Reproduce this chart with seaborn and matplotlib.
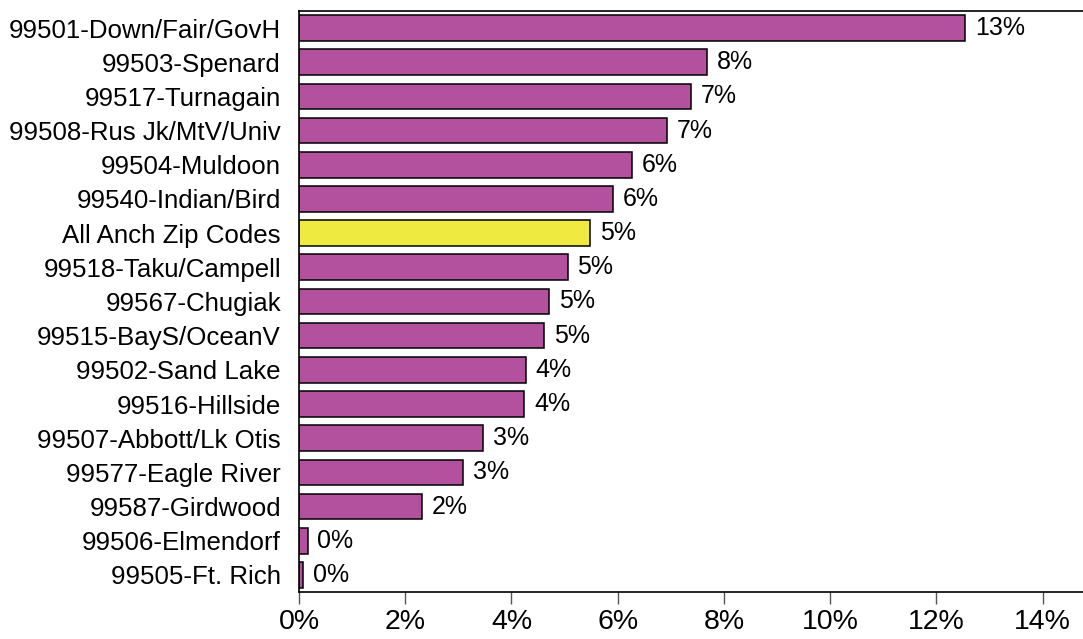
import pandas as pd
import matplotlib.pyplot as plt
import seaborn as sns
from matplotlib.ticker import FuncFormatter

# Data
zip_areas = [
    "99501-Down/Fair/GovH", "99503-Spenard", "99517-Turnagain", "99508-Rus Jk/MtV/Univ",
    "99504-Muldoon", "99540-Indian/Bird", "All Anch Zip Codes", "99518-Taku/Campell",
    "99567-Chugiak", "99515-BayS/OceanV", "99502-Sand Lake", "99516-Hillside",
    "99507-Abbott/Lk Otis", "99577-Eagle River", "99587-Girdwood", "99506-Elmendorf",
    "99505-Ft. Rich",
]
pct = [12.54, 7.68, 7.38, 6.92, 6.27, 5.91, 5.48, 5.06, 4.71, 4.62, 4.27, 4.24,
       3.47, 3.09, 2.32, 0.16, 0.08]
x_ticks = [0, 2, 4, 6, 8, 10, 12, 14]

purple = "#B4519E"
yellow = "#EEEA40"
colors = [yellow if a.startswith("All") else purple for a in zip_areas]

df = pd.DataFrame({"area": zip_areas, "pct": pct})

sns.set_style("white")
plt.rcParams["font.family"] = ["Liberation Sans", "DejaVu Sans"]

fig = plt.figure(figsize=(10.83, 6.39), dpi=100)
ax = fig.add_axes([0.2761, 0.0736, 0.7239, 0.9092])

sns.barplot(data=df, x="pct", y="area", hue="area", palette=colors, legend=False,
            orient="h", width=0.75, edgecolor="black", linewidth=1.1, saturation=1, ax=ax)

for cont in ax.containers:
    ax.bar_label(cont, labels=[f"{v:.0f}%" for v in cont.datavalues],
                 padding=7, fontsize=18, color="black")

ax.set_xlim(0, 14.76)
ax.set_xticks(x_ticks)
ax.xaxis.set_major_formatter(FuncFormatter(lambda v, p: f"{v:.0f}%"))
ax.set_xlabel("")
ax.set_ylabel("")
ax.tick_params(axis="x", length=8.5, width=1, color="#555555", pad=4, labelsize=20.5,
               labelcolor="black", bottom=True)
ax.tick_params(axis="y", length=0, pad=13, labelsize=18.6, labelcolor="black")

for s in ["left", "bottom", "top"]:
    ax.spines[s].set_color("black")
    ax.spines[s].set_linewidth(1.2)
ax.spines["right"].set_visible(False)

fig.savefig("out.png", dpi=100)
